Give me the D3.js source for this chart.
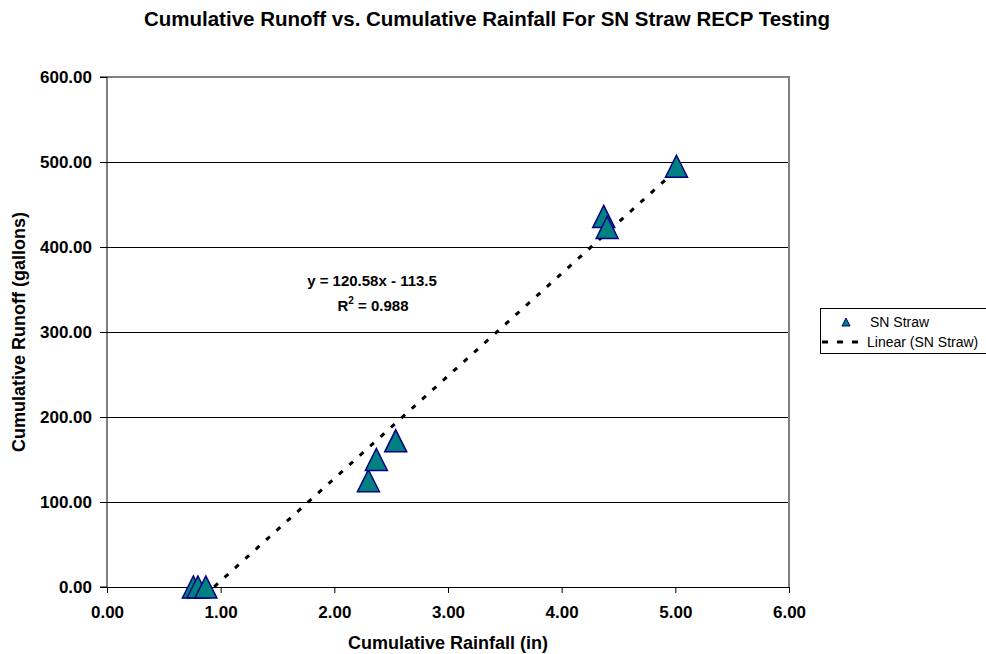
<!DOCTYPE html>
<html><head><meta charset="utf-8">
<script src="https://cdn.jsdelivr.net/npm/d3@7"></script>
<style>
body{margin:0;background:#fff;}
svg{display:block;font-family:"Liberation Sans",Arial,sans-serif;}
</style></head>
<body><svg id="c" width="986" height="654"></svg>
<script>
// Data
const rainfall = [0.76, 0.80, 0.87, 2.30, 2.37, 2.54, 4.37, 4.40, 5.01];
const runoff   = [0, 0, 0, 125, 150, 172, 436, 423, 495];
const xTicks = [0, 1, 2, 3, 4, 5, 6];
const yTicks = [0, 100, 200, 300, 400, 500, 600];
const trendSlope = [120.58];
const trendIntercept = [-113.5];
const seriesName = "SN Straw";

const svg = d3.select("#c");
const L = 107, R = 789, T = 77, B = 587;
const x = d3.scaleLinear().domain([0, 6]).range([L, R]);
const y = d3.scaleLinear().domain([0, 600]).range([B, T]);

svg.append("rect").attr("width", 986).attr("height", 654).attr("fill", "#fff");

// Title
svg.append("text").attr("x", 487).attr("y", 26).attr("text-anchor", "middle")
  .attr("font-size", 20.5).attr("font-weight", "bold")
  .text("Cumulative Runoff vs. Cumulative Rainfall For SN Straw RECP Testing");

// gridlines
svg.append("g").selectAll("line").data(yTicks.filter(d => d > 0 && d < 600)).join("line")
  .attr("x1", L).attr("x2", R).attr("y1", d => y(d)).attr("y2", d => y(d))
  .attr("stroke", "#000").attr("stroke-width", 1).attr("shape-rendering", "crispEdges");

// border top/right
svg.append("path").attr("d", `M${L},${T}H${R}V${B}`).attr("fill", "none")
  .attr("stroke", "#808080").attr("stroke-width", 1.5).attr("shape-rendering", "crispEdges");

// axes
const xAxis = d3.axisBottom(x).tickValues(xTicks).tickSize(6).tickPadding(13).tickFormat(d3.format(".2f"));
const gx = svg.append("g").attr("transform", `translate(0,${B})`).call(xAxis);
const yAxis = d3.axisLeft(y).tickValues(yTicks).tickSize(7).tickPadding(8).tickFormat(d3.format(".2f"));
const gy = svg.append("g").attr("transform", `translate(${L},0)`).call(yAxis);
[gx, gy].forEach(g => {
  g.select(".domain").attr("stroke", "#000");
  g.selectAll(".tick line").attr("stroke", "#000");
  g.selectAll("text").attr("font-size", 17).attr("font-weight", "bold")
    .attr("font-family", '"Liberation Sans",Arial,sans-serif').attr("fill", "#000");
});
gy.select(".domain").attr("d", `M-7,${T}H0V${B}H-7`);

// axis titles
svg.append("text").attr("x", 448).attr("y", 649).attr("text-anchor", "middle")
  .attr("font-size", 18).attr("font-weight", "bold").text("Cumulative Rainfall (in)");
svg.append("text").attr("transform", `translate(25,${(T + B) / 2}) rotate(-90)`).attr("text-anchor", "middle")
  .attr("font-size", 18).attr("font-weight", "bold").text("Cumulative Runoff (gallons)");

// clip
svg.append("clipPath").attr("id", "pc").append("rect")
  .attr("x", L).attr("y", T).attr("width", R - L).attr("height", B - T);

// trendline
const xmin = d3.min(rainfall), xmax = d3.max(rainfall);
svg.append("line").attr("clip-path", "url(#pc)")
  .attr("x1", x(xmin)).attr("y1", y(trendSlope[0] * xmin + trendIntercept[0]))
  .attr("x2", x(xmax)).attr("y2", y(trendSlope[0] * xmax + trendIntercept[0]))
  .attr("stroke", "#000").attr("stroke-width", 3).attr("stroke-dasharray", "5,9");

// markers
const tri = (cx, cy, s) => `M${cx},${cy - s}L${cx + s},${cy + s}L${cx - s},${cy + s}Z`;
svg.append("g").selectAll("path").data(rainfall.map((r, i) => [r, runoff[i]])).join("path")
  .attr("d", d => tri(x(d[0]), y(d[1]), 11))
  .attr("fill", "#008080").attr("stroke", "#000080").attr("stroke-width", 1.5);

// equation
svg.append("text").attr("x", 372).attr("y", 286).attr("text-anchor", "middle")
  .attr("font-size", 15).attr("font-weight", "bold")
  .text(`y = ${trendSlope[0]}x - ${Math.abs(trendIntercept[0])}`);
const r2 = svg.append("text").attr("x", 373).attr("y", 311).attr("text-anchor", "middle")
  .attr("font-size", 15).attr("font-weight", "bold");
r2.append("tspan").text("R");
r2.append("tspan").attr("font-size", 10).attr("dy", -7).text("2");
r2.append("tspan").attr("dy", 7).text(" = 0.988");

// legend
svg.append("rect").attr("x", 820.5).attr("y", 308.5).attr("width", 200).attr("height", 45)
  .attr("fill", "#fff").attr("stroke", "#000").attr("stroke-width", 1);
svg.append("path").attr("d", tri(846, 322, 4)).attr("fill", "#008080").attr("stroke", "#000080").attr("stroke-width", 1);
svg.append("text").attr("x", 870).attr("y", 327).attr("font-size", 14).text(seriesName);
svg.append("line").attr("x1", 822).attr("x2", 866).attr("y1", 342).attr("y2", 342)
  .attr("stroke", "#000").attr("stroke-width", 3).attr("stroke-dasharray", "6,9");
svg.append("text").attr("x", 867).attr("y", 347).attr("font-size", 14).text(`Linear (${seriesName})`);
</script></body></html>
